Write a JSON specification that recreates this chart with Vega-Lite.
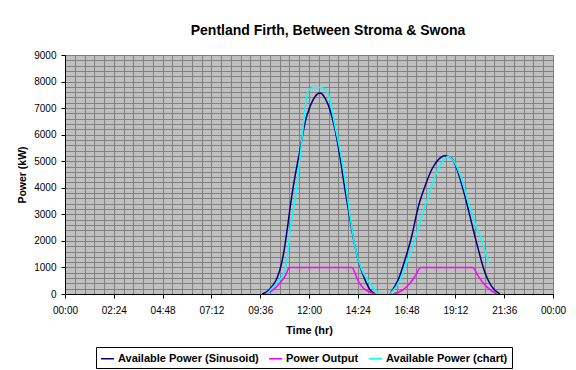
{
  "$schema": "https://vega.github.io/schema/vega-lite/v6.json",
  "width": 488,
  "height": 239,
  "autosize": {"type": "none"},
  "padding": {"left": 65, "top": 55, "right": 23, "bottom": 76},
  "background": "white",
  "config": {
    "font": "Liberation Sans",
    "view": {"fill": "#c0c0c0", "stroke": "#808080", "strokeWidth": 1},
    "axis": {
      "domainColor": "black",
      "tickColor": "black",
      "labelColor": "black",
      "titleColor": "black",
      "labelFont": "Liberation Sans",
      "labelFontSize": 10,
      "titleFont": "Liberation Sans",
      "titleFontWeight": "bold",
      "gridColor": "#808080",
      "gridOpacity": 1,
      "gridWidth": 1,
      "tickSize": 4
    }
  },
  "title": {
    "text": "Pentland Firth, Between Stroma & Swona",
    "font": "Liberation Sans",
    "fontSize": 14,
    "fontWeight": "bold",
    "color": "black",
    "anchor": "middle",
    "dx": 19,
    "offset": 12
  },
  "data": {
    "values": [
      {"t": 9.7, "v": 0, "s": "Available Power (Sinusoid)"},
      {"t": 10.0, "v": 130, "s": "Available Power (Sinusoid)"},
      {"t": 10.2, "v": 300, "s": "Available Power (Sinusoid)"},
      {"t": 10.45, "v": 640, "s": "Available Power (Sinusoid)"},
      {"t": 10.65, "v": 1150, "s": "Available Power (Sinusoid)"},
      {"t": 10.82, "v": 1850, "s": "Available Power (Sinusoid)"},
      {"t": 10.95, "v": 2550, "s": "Available Power (Sinusoid)"},
      {"t": 11.07, "v": 3250, "s": "Available Power (Sinusoid)"},
      {"t": 11.31, "v": 4420, "s": "Available Power (Sinusoid)"},
      {"t": 11.56, "v": 5430, "s": "Available Power (Sinusoid)"},
      {"t": 11.8, "v": 6440, "s": "Available Power (Sinusoid)"},
      {"t": 12.05, "v": 7060, "s": "Available Power (Sinusoid)"},
      {"t": 12.3, "v": 7440, "s": "Available Power (Sinusoid)"},
      {"t": 12.54, "v": 7570, "s": "Available Power (Sinusoid)"},
      {"t": 12.79, "v": 7380, "s": "Available Power (Sinusoid)"},
      {"t": 13.03, "v": 6940, "s": "Available Power (Sinusoid)"},
      {"t": 13.28, "v": 6190, "s": "Available Power (Sinusoid)"},
      {"t": 13.52, "v": 5180, "s": "Available Power (Sinusoid)"},
      {"t": 13.77, "v": 3930, "s": "Available Power (Sinusoid)"},
      {"t": 14.02, "v": 2800, "s": "Available Power (Sinusoid)"},
      {"t": 14.26, "v": 1790, "s": "Available Power (Sinusoid)"},
      {"t": 14.51, "v": 1040, "s": "Available Power (Sinusoid)"},
      {"t": 14.75, "v": 540, "s": "Available Power (Sinusoid)"},
      {"t": 15.0, "v": 160, "s": "Available Power (Sinusoid)"},
      {"t": 15.25, "v": 0, "s": "Available Power (Sinusoid)"},
      {"t": 15.6, "v": null, "s": "Available Power (Sinusoid)"},
      {"t": 15.98, "v": 0, "s": "Available Power (Sinusoid)"},
      {"t": 16.39, "v": 540, "s": "Available Power (Sinusoid)"},
      {"t": 16.72, "v": 1290, "s": "Available Power (Sinusoid)"},
      {"t": 17.05, "v": 2170, "s": "Available Power (Sinusoid)"},
      {"t": 17.38, "v": 3300, "s": "Available Power (Sinusoid)"},
      {"t": 17.7, "v": 4050, "s": "Available Power (Sinusoid)"},
      {"t": 18.03, "v": 4680, "s": "Available Power (Sinusoid)"},
      {"t": 18.36, "v": 5060, "s": "Available Power (Sinusoid)"},
      {"t": 18.69, "v": 5210, "s": "Available Power (Sinusoid)"},
      {"t": 19.02, "v": 5120, "s": "Available Power (Sinusoid)"},
      {"t": 19.34, "v": 4560, "s": "Available Power (Sinusoid)"},
      {"t": 19.67, "v": 3680, "s": "Available Power (Sinusoid)"},
      {"t": 20.0, "v": 2670, "s": "Available Power (Sinusoid)"},
      {"t": 20.33, "v": 1670, "s": "Available Power (Sinusoid)"},
      {"t": 20.66, "v": 790, "s": "Available Power (Sinusoid)"},
      {"t": 20.98, "v": 290, "s": "Available Power (Sinusoid)"},
      {"t": 21.39, "v": 0, "s": "Available Power (Sinusoid)"},

      {"t": 9.84, "v": 0, "s": "Power Output"},
      {"t": 10.25, "v": 162, "s": "Power Output"},
      {"t": 10.57, "v": 414, "s": "Power Output"},
      {"t": 10.82, "v": 663, "s": "Power Output"},
      {"t": 11.05, "v": 1000, "s": "Power Output"},
      {"t": 14.1, "v": 1000, "s": "Power Output"},
      {"t": 14.43, "v": 475, "s": "Power Output"},
      {"t": 14.67, "v": 226, "s": "Power Output"},
      {"t": 15.0, "v": 75, "s": "Power Output"},
      {"t": 15.28, "v": 0, "s": "Power Output"},
      {"t": 15.7, "v": null, "s": "Power Output"},
      {"t": 16.15, "v": 0, "s": "Power Output"},
      {"t": 16.64, "v": 162, "s": "Power Output"},
      {"t": 16.97, "v": 414, "s": "Power Output"},
      {"t": 17.21, "v": 663, "s": "Power Output"},
      {"t": 17.5, "v": 1000, "s": "Power Output"},
      {"t": 20.05, "v": 1000, "s": "Power Output"},
      {"t": 20.33, "v": 663, "s": "Power Output"},
      {"t": 20.57, "v": 414, "s": "Power Output"},
      {"t": 20.9, "v": 162, "s": "Power Output"},
      {"t": 21.23, "v": 0, "s": "Power Output"},

      {"t": 8.9, "v": 0, "s": "Available Power (chart)"},
      {"t": 9.2, "v": 0, "s": "Available Power (chart)"},
      {"t": 9.5, "v": null, "s": "Available Power (chart)"},
      {"t": 9.92, "v": 0, "s": "Available Power (chart)"},
      {"t": 10.25, "v": 286, "s": "Available Power (chart)"},
      {"t": 10.57, "v": 538, "s": "Available Power (chart)"},
      {"t": 10.82, "v": 915, "s": "Available Power (chart)"},
      {"t": 10.98, "v": 1668, "s": "Available Power (chart)"},
      {"t": 11.07, "v": 2421, "s": "Available Power (chart)"},
      {"t": 11.17, "v": 2900, "s": "Available Power (chart)"},
      {"t": 11.4, "v": 4051, "s": "Available Power (chart)"},
      {"t": 11.56, "v": 5181, "s": "Available Power (chart)"},
      {"t": 11.72, "v": 6311, "s": "Available Power (chart)"},
      {"t": 11.89, "v": 7440, "s": "Available Power (chart)"},
      {"t": 12.05, "v": 7730, "s": "Available Power (chart)"},
      {"t": 12.38, "v": 7780, "s": "Available Power (chart)"},
      {"t": 12.79, "v": 7730, "s": "Available Power (chart)"},
      {"t": 13.03, "v": 7315, "s": "Available Power (chart)"},
      {"t": 13.28, "v": 6311, "s": "Available Power (chart)"},
      {"t": 13.52, "v": 5433, "s": "Available Power (chart)"},
      {"t": 13.77, "v": 4304, "s": "Available Power (chart)"},
      {"t": 14.02, "v": 2922, "s": "Available Power (chart)"},
      {"t": 14.26, "v": 1792, "s": "Available Power (chart)"},
      {"t": 14.59, "v": 915, "s": "Available Power (chart)"},
      {"t": 15.0, "v": 414, "s": "Available Power (chart)"},
      {"t": 15.41, "v": 38, "s": "Available Power (chart)"},
      {"t": 15.66, "v": 0, "s": "Available Power (chart)"},
      {"t": 15.8, "v": null, "s": "Available Power (chart)"},
      {"t": 15.98, "v": 0, "s": "Available Power (chart)"},
      {"t": 16.48, "v": 538, "s": "Available Power (chart)"},
      {"t": 16.8, "v": 1167, "s": "Available Power (chart)"},
      {"t": 17.21, "v": 2044, "s": "Available Power (chart)"},
      {"t": 17.54, "v": 2922, "s": "Available Power (chart)"},
      {"t": 17.87, "v": 3675, "s": "Available Power (chart)"},
      {"t": 18.2, "v": 4428, "s": "Available Power (chart)"},
      {"t": 18.52, "v": 4932, "s": "Available Power (chart)"},
      {"t": 18.85, "v": 5181, "s": "Available Power (chart)"},
      {"t": 19.18, "v": 4932, "s": "Available Power (chart)"},
      {"t": 19.51, "v": 4304, "s": "Available Power (chart)"},
      {"t": 19.84, "v": 3426, "s": "Available Power (chart)"},
      {"t": 20.16, "v": 2673, "s": "Available Power (chart)"},
      {"t": 20.49, "v": 2044, "s": "Available Power (chart)"},
      {"t": 20.82, "v": 1167, "s": "Available Power (chart)"}
    ]
  },
  "mark": {"type": "line", "strokeWidth": 1.5, "interpolate": "monotone", "clip": true},
  "encoding": {
    "x": {
      "field": "t",
      "type": "quantitative",
      "scale": {"domain": [0, 24], "nice": false, "zero": false},
      "axis": {
        "title": "Time (hr)",
        "titleFontSize": 11,
        "titlePadding": 9,
        "values": [0,0.48,0.96,1.44,1.92,2.4,2.88,3.36,3.84,4.32,4.8,5.28,5.76,6.24,6.72,7.2,7.68,8.16,8.64,9.12,9.6,10.08,10.56,11.04,11.52,12,12.48,12.96,13.44,13.92,14.4,14.88,15.36,15.84,16.32,16.8,17.28,17.76,18.24,18.72,19.2,19.68,20.16,20.64,21.12,21.6,22.08,22.56,23.04,23.52,24],
        "labelExpr": "round(datum.value/0.48)%5==0 ? ((floor((round(round(datum.value/0.48)*28.8)%1440)/60) < 10 ? '0' : '') + floor((round(round(datum.value/0.48)*28.8)%1440)/60) + ':' + ((round(round(datum.value/0.48)*28.8)%60) < 10 ? '0' : '') + (round(round(datum.value/0.48)*28.8)%60)) : ''",
        "labelOverlap": false,
        "labelFlush": false,
        "labelPadding": 7,
        "tickOpacity": {"condition": {"test": "round(datum.value/0.48)%5==0", "value": 1}, "value": 0},
        "grid": true
      }
    },
    "y": {
      "field": "v",
      "type": "quantitative",
      "scale": {"domain": [0, 9000], "nice": false},
      "axis": {
        "title": "Power (kW)",
        "titleFontSize": 10.5,
        "titlePadding": 6,
        "values": [0,200,400,600,800,1000,1200,1400,1600,1800,2000,2200,2400,2600,2800,3000,3200,3400,3600,3800,4000,4200,4400,4600,4800,5000,5200,5400,5600,5800,6000,6200,6400,6600,6800,7000,7200,7400,7600,7800,8000,8200,8400,8600,8800,9000],
        "format": "d",
        "labelExpr": "datum.value % 1000 == 0 ? datum.label : ''",
        "labelOverlap": false,
        "labelFlush": false,
        "labelPadding": 5,
        "tickOpacity": {"condition": {"test": "datum.value % 1000 == 0", "value": 1}, "value": 0},
        "grid": true
      }
    },
    "color": {
      "field": "s",
      "type": "nominal",
      "scale": {
        "domain": ["Available Power (Sinusoid)", "Power Output", "Available Power (chart)"],
        "range": ["#000080", "#ff00ff", "#00ffff"]
      },
      "legend": {
        "title": null,
        "orient": "none",
        "direction": "horizontal",
        "legendX": 31,
        "legendY": 292,
        "symbolType": "stroke",
        "symbolSize": 169,
        "symbolStrokeWidth": 1.5,
        "labelFont": "Liberation Sans",
        "labelFontSize": 11,
        "labelFontWeight": "bold",
        "labelColor": "black",
        "labelOffset": 3,
        "columnPadding": 7,
        "strokeColor": "black",
        "fillColor": "white",
        "padding": 4,
        "labelLimit": 300
      }
    }
  }
}
